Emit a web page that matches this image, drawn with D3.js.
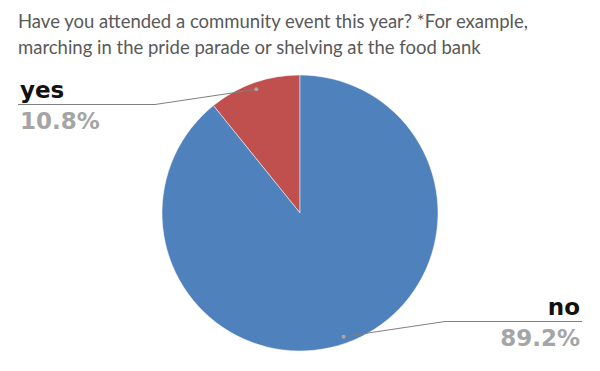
<!DOCTYPE html>
<html>
<head>
<meta charset="utf-8">
<script src="https://cdn.jsdelivr.net/npm/d3@7"></script>
<style>
  body { margin: 0; background: #fff; }
  svg { display: block; }
</style>
</head>
<body>
<svg id="chart" width="600" height="371"></svg>
<script>
// data
const categories = ["yes", "no"];
const values = [10.8, 89.2];
const valueLabels = ["10.8%", "89.2%"];
const colors = ["#c0504d", "#4f81bd"];
const titleLines = [
  "Have you attended a community event this year? *For example,",
  "marching in the pride parade or shelving at the food bank"
];

const svg = d3.select("#chart");
const cx = 300, cy = 213, radius = 138;

// title
svg.append("g")
  .selectAll("text")
  .data(titleLines)
  .join("text")
  .attr("x", 18)
  .attr("y", (d, i) => 28 + i * 26)
  .attr("font-family", "Lato, sans-serif")
  .attr("font-size", 18.5)
  .attr("fill", "#595959")
  .text(d => d);

// pie: first slice goes counterclockwise from 12 o'clock
const total = d3.sum(values);
const start = -2 * Math.PI * values[0] / total;
const pie = d3.pie().sort(null).startAngle(start).endAngle(start + 2 * Math.PI);
const arcs = pie(values);
const arc = d3.arc().innerRadius(0).outerRadius(radius);

const g = svg.append("g").attr("transform", `translate(${cx},${cy})`);
g.selectAll("path")
  .data(arcs)
  .join("path")
  .attr("d", arc)
  .attr("fill", (d, i) => colors[i])
  .attr("stroke", "#ffffff")
  .attr("stroke-width", 0.5);

// labels with leader lines
const dotArc = d3.arc().innerRadius(radius * 0.95).outerRadius(radius * 0.95);
const labelPos = [
  { x: 20, lineY: 104.5, elbowX: 155, anchor: "start", lineEnd: 18 },
  { x: 580, lineY: 321.5, elbowX: 445, anchor: "end", lineEnd: 582 }
];

arcs.forEach((a, i) => {
  const [dx, dy] = dotArc.centroid(a);
  const p = labelPos[i];
  svg.append("path")
    .attr("d", `M${cx + dx},${cy + dy} L${p.elbowX},${p.lineY} L${p.lineEnd},${p.lineY}`)
    .attr("fill", "none")
    .attr("stroke", "#7f7f7f")
    .attr("stroke-width", 1);
  svg.append("circle")
    .attr("cx", cx + dx)
    .attr("cy", cy + dy)
    .attr("r", 2)
    .attr("fill", "#a6a6a6");
  svg.append("text")
    .attr("x", p.x)
    .attr("y", p.lineY - 7)
    .attr("text-anchor", p.anchor)
    .attr("font-family", "'DejaVu Sans', sans-serif")
    .attr("font-weight", "bold")
    .attr("font-size", 23)
    .attr("fill", "#111")
    .text(categories[i]);
  svg.append("text")
    .attr("x", p.x)
    .attr("y", p.lineY + 24)
    .attr("text-anchor", p.anchor)
    .attr("font-family", "'DejaVu Sans', sans-serif")
    .attr("font-weight", "bold")
    .attr("font-size", 23)
    .attr("fill", "#a5a5a5")
    .text(valueLabels[i]);
});
</script>
</body>
</html>
